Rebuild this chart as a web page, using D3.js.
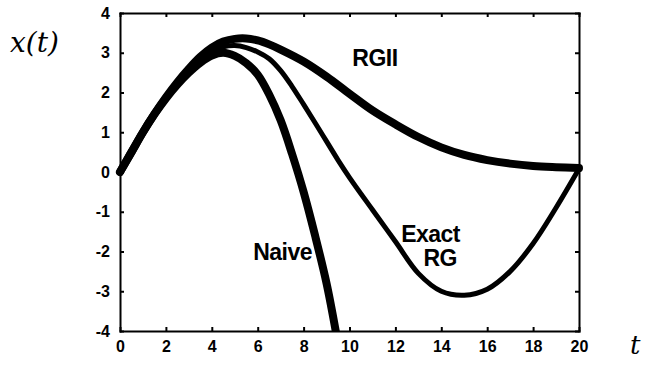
<!DOCTYPE html>
<html>
<head>
<meta charset="utf-8">
<script src="https://cdn.jsdelivr.net/npm/d3@7"></script>
<style>
  body { margin: 0; background: #fff; }
  .axis text { font-family: "Liberation Sans", Arial, sans-serif; font-weight: bold; font-size: 16px; fill: #000; }
  .axis path, .axis line { stroke: #000; stroke-width: 2; }
  .lbl { font-family: "Liberation Sans", Arial, sans-serif; font-weight: bold; font-size: 23px; letter-spacing: -0.5px; }
</style>
</head>
<body>
<div id="chart"></div>
<script>
var width = 650;
var height = 365;
var margin = {top: 13, right: 71, bottom: 34, left: 120};

// values
var tNaive = [0, 0.5, 1, 1.5, 2, 2.5, 3, 3.5, 4, 4.5, 5, 5.5, 6, 6.5, 7, 7.5, 8, 8.5, 9, 9.4];
var xNaive = [0, 0.5, 1.0, 1.45, 1.85, 2.2, 2.5, 2.75, 2.93, 3.0, 2.92, 2.74, 2.45, 1.95, 1.3, 0.45, -0.5, -1.6, -2.8, -4.0];

var tExact = [0, 0.5, 1, 1.5, 2, 2.5, 3, 3.5, 4, 4.5, 5, 5.5, 6, 6.5, 7, 7.5, 8, 8.5, 9, 9.5, 10, 11, 12, 13, 14, 15, 16, 17, 18, 19, 20];
var xExact = [0, 0.5, 1.0, 1.46, 1.87, 2.24, 2.56, 2.85, 3.05, 3.15, 3.18, 3.13, 3.02, 2.85, 2.55, 2.15, 1.7, 1.24, 0.77, 0.3, -0.14, -0.95, -1.75, -2.55, -3.0, -3.1, -2.95, -2.5, -1.8, -0.9, 0.08];

var tRG2 = [0, 0.5, 1, 1.5, 2, 2.5, 3, 3.5, 4, 4.5, 5, 5.5, 6, 6.5, 7, 8, 9, 10, 11, 12, 13, 14, 15, 16, 17, 18, 19, 20];
var xRG2 = [0, 0.5, 1.0, 1.46, 1.88, 2.26, 2.6, 2.9, 3.13, 3.28, 3.35, 3.36, 3.31, 3.21, 3.08, 2.78, 2.4, 1.97, 1.55, 1.2, 0.88, 0.62, 0.43, 0.3, 0.21, 0.15, 0.12, 0.1];

var xTicks = [0, 2, 4, 6, 8, 10, 12, 14, 16, 18, 20];
var yTicks = [-4, -3, -2, -1, 0, 1, 2, 3, 4];

var svg = d3.select("#chart").append("svg")
          .attr("width", width)
          .attr("height", height);

var x = d3.scaleLinear().domain([0, 20]).range([margin.left, width - margin.right]);
var y = d3.scaleLinear().domain([-4, 4]).range([height - margin.bottom, margin.top]);

svg.append("clipPath").attr("id", "plot")
   .append("rect")
   .attr("x", x(0) - 6).attr("y", y(4))
   .attr("width", x(20) - x(0) + 12).attr("height", y(-4) - y(4));

// plain hyphen for negatives, as in the original
var fmt = function(d) { return String(d); };

// axes, ticks pointing inward on all four sides
svg.append("g").attr("class", "axis")
   .attr("transform", "translate(0," + y(-4) + ")")
   .call(d3.axisBottom(x).tickValues(xTicks).tickSize(-4).tickSizeOuter(0).tickPadding(10).tickFormat(fmt));
svg.append("g").attr("class", "axis")
   .attr("transform", "translate(0," + y(4) + ")")
   .call(d3.axisTop(x).tickValues(xTicks).tickSize(-4).tickSizeOuter(0).tickFormat(""));
svg.append("g").attr("class", "axis")
   .attr("transform", "translate(" + x(0) + ",0)")
   .call(d3.axisLeft(y).tickValues(yTicks).tickSize(-4).tickSizeOuter(0).tickPadding(10).tickFormat(fmt));
svg.append("g").attr("class", "axis")
   .attr("transform", "translate(" + x(20) + ",0)")
   .call(d3.axisRight(y).tickValues(yTicks).tickSize(-4).tickSizeOuter(0).tickFormat(""));

svg.selectAll(".axis .domain").attr("stroke-linecap", "square");

var line = d3.line()
   .x(function(d) { return x(d[0]); })
   .y(function(d) { return y(d[1]); })
   .curve(d3.curveCatmullRom);

function pairs(ts, vs) {
  return ts.map(function(t, i) { return [t, vs[i]]; });
}

var series = [
  {name: "RGII", data: pairs(tRG2, xRG2), w: 8},
  {name: "Exact", data: pairs(tExact, xExact), w: 5},
  {name: "Naive", data: pairs(tNaive, xNaive), w: 8}
];

svg.append("g").attr("clip-path", "url(#plot)")
   .selectAll("path")
   .data(series)
   .enter().append("path")
   .attr("d", function(d) { return line(d.data); })
   .attr("fill", "none")
   .attr("stroke", "black")
   .attr("stroke-width", function(d) { return d.w; })
   .attr("stroke-linecap", "round")
   .attr("stroke-linejoin", "round");

// curve labels
svg.append("text").attr("class", "lbl").attr("x", 375).attr("y", 66).attr("text-anchor", "middle").text("RGII");
svg.append("text").attr("class", "lbl").attr("x", 312).attr("y", 260).attr("text-anchor", "end").text("Naive");
svg.append("text").attr("class", "lbl").attr("x", 460).attr("y", 242).attr("text-anchor", "end").text("Exact");
svg.append("text").attr("class", "lbl").attr("x", 457).attr("y", 266).attr("text-anchor", "end").text("RG");

// axis titles
svg.append("text").attr("x", 10).attr("y", 52)
   .style("font-family", "'DejaVu Serif', 'Liberation Serif', serif").style("font-style", "italic").style("font-size", "28px")
   .text("x(t)");
svg.append("text").attr("x", 630).attr("y", 354)
   .style("font-family", "'DejaVu Serif', 'Liberation Serif', serif").style("font-style", "italic").style("font-size", "26px")
   .text("t");
</script>
</body>
</html>
